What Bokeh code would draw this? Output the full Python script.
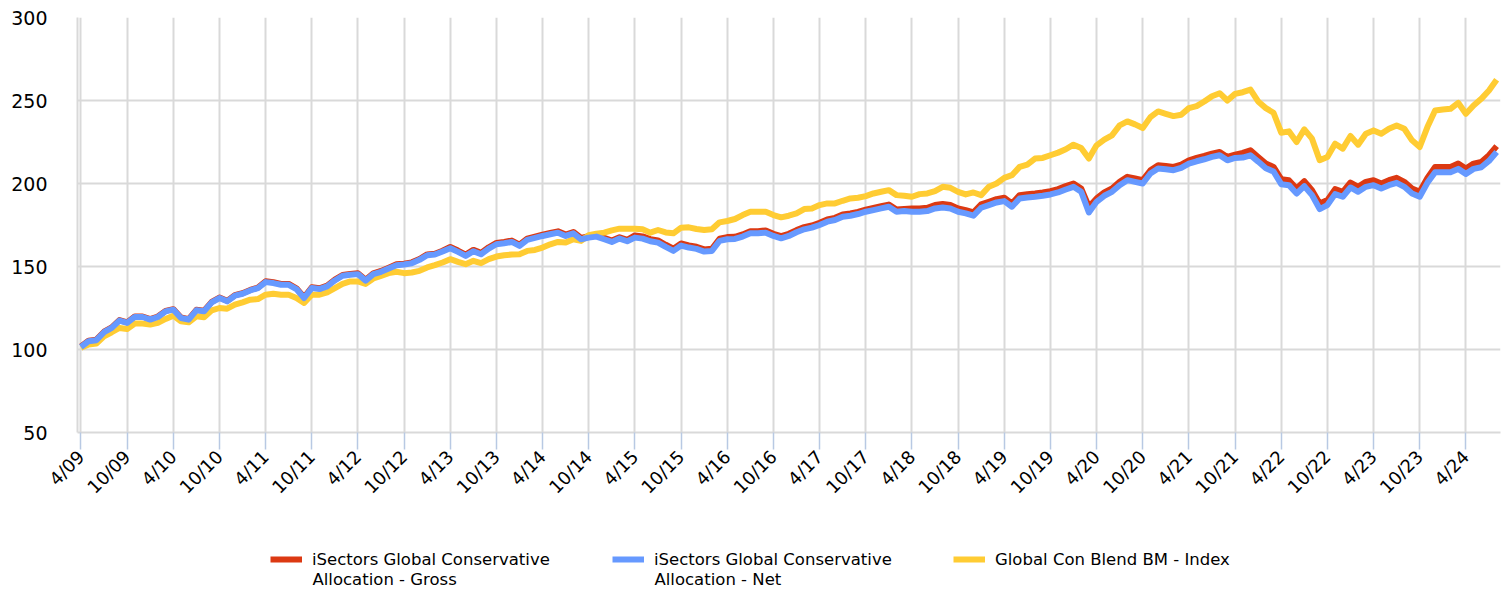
import math
from bokeh.plotting import figure
from bokeh.layouts import column
from bokeh.models import FixedTicker, Legend, LegendItem, ColumnDataSource, Range1d, Label
from bokeh.embed import file_html
from bokeh.resources import INLINE

tick_labels = ["4/09", "10/09", "4/10", "10/10", "4/11", "10/11", "4/12", "10/12",
               "4/13", "10/13", "4/14", "10/14", "4/15", "10/15", "4/16", "10/16",
               "4/17", "10/17", "4/18", "10/18", "4/19", "10/19", "4/20", "10/20",
               "4/21", "10/21", "4/22", "10/22", "4/23", "10/23", "4/24"]
y_ticks = [50, 100, 150, 200, 250, 300]

gross = [101.8, 105.3, 105.9, 110.7, 113.3, 117.7, 116.3, 119.9, 119.9, 118.3,
         119.9, 123.3, 124.3, 119.3, 118.3, 123.9, 123.3, 128.7, 131.3, 129.3,
         132.7, 133.9, 135.9, 137.3, 141.1, 140.5, 139.5, 139.5, 136.9, 131.5,
         137.5, 136.9, 138.5, 142.1, 144.9, 145.5, 145.9, 142.0, 145.9, 147.3,
         149.3, 151.3, 151.7, 152.5, 154.5, 157.3, 157.7, 159.5, 161.8, 159.6,
         157.2, 160.0, 158.2, 161.6, 164.2, 164.8, 165.6, 163.2, 166.8, 168.0,
         169.2, 170.2, 171.2, 169.2, 170.8, 167.2, 168.2, 168.8, 167.2, 165.6,
         167.6, 166.0, 168.7, 168.1, 166.5, 165.7, 163.1, 160.7, 163.9, 162.7,
         161.9, 160.3, 160.7, 166.7, 167.7, 167.9, 169.3, 171.3, 171.3, 171.7,
         169.7, 168.3, 169.7, 171.9, 173.7, 174.7, 176.3, 178.3, 179.3, 181.3,
         181.9, 182.9, 184.3, 185.3, 186.3, 187.3, 184.3, 184.7, 185.0, 185.0,
         185.4, 187.0, 187.6, 187.0, 185.0, 184.0, 182.6, 187.4, 189.0, 190.6,
         191.4, 188.0, 193.0, 193.6, 194.0, 194.6, 195.4, 196.6, 198.4, 200.0,
         197.0, 186.0, 191.0, 194.6, 197.0, 201.0, 204.0, 203.0, 202.0, 208.0,
         211.0, 210.6, 210.0, 211.4, 214.0, 215.4, 216.6, 218.0, 219.0, 216.0,
         217.4, 218.4, 220.0, 216.0, 212.0, 210.0, 202.6, 202.0, 197.0, 201.4,
         196.0, 188.0, 190.0, 196.6, 195.0, 200.6, 198.0, 201.0, 202.0, 200.0,
         202.0, 203.4, 201.0, 197.0, 195.0, 203.4, 210.0, 210.0, 210.0, 212.0,
         209.0, 212.0, 213.0, 217.0, 222.5]

net = [101.5, 105.0, 105.6, 110.4, 113.0, 117.4, 116.0, 119.6, 119.6, 118.0,
       119.6, 123.0, 124.0, 119.0, 118.0, 123.6, 123.0, 128.4, 131.0, 129.0,
       132.4, 133.6, 135.6, 137.0, 140.6, 140.0, 139.0, 139.0, 136.4, 131.0,
       137.0, 136.4, 138.0, 141.6, 144.4, 145.0, 145.4, 141.5, 145.4, 146.8,
       148.8, 150.8, 151.2, 152.0, 154.0, 156.8, 157.2, 159.0, 161.0, 158.8,
       156.4, 159.2, 157.4, 160.8, 163.4, 164.0, 164.8, 162.4, 166.0, 167.2,
       168.4, 169.4, 170.4, 168.4, 170.0, 166.4, 167.4, 168.0, 166.4, 164.8,
       166.8, 165.2, 167.4, 166.8, 165.2, 164.4, 161.8, 159.4, 162.6, 161.4,
       160.6, 159.0, 159.4, 165.4, 166.4, 166.6, 168.0, 170.0, 170.0, 170.4,
       168.4, 167.0, 168.4, 170.6, 172.4, 173.4, 175.0, 177.0, 178.0, 180.0,
       180.6, 181.6, 183.0, 184.0, 185.0, 186.0, 183.0, 183.4, 183.0, 183.0,
       183.4, 185.0, 185.6, 185.0, 183.0, 182.0, 180.6, 185.4, 187.0, 188.6,
       189.4, 186.0, 191.0, 191.6, 192.0, 192.6, 193.4, 194.6, 196.4, 198.0,
       195.0, 182.6, 189.0, 192.6, 195.0, 199.0, 202.0, 201.0, 200.0, 206.0,
       209.0, 208.6, 208.0, 209.4, 212.0, 213.4, 214.6, 216.0, 217.0, 214.0,
       215.4, 215.6, 217.0, 213.2, 209.2, 207.2, 199.6, 199.0, 194.0, 198.4,
       193.0, 184.6, 187.0, 193.6, 192.0, 197.6, 195.0, 198.0, 199.0, 197.0,
       199.0, 200.4, 198.0, 194.0, 192.0, 200.4, 206.8, 206.8, 206.8, 208.8,
       205.8, 208.8, 209.8, 213.6, 219.0]

index = [101.0, 103.0, 103.6, 108.0, 110.4, 113.0, 112.4, 115.6, 115.6, 115.0,
         116.0, 118.4, 120.4, 117.0, 116.4, 120.0, 119.4, 123.6, 125.0, 124.6,
         127.0, 128.4, 130.0, 130.4, 133.0, 133.6, 133.0, 133.0, 131.0, 128.0,
         133.0, 133.0, 134.4, 137.0, 139.6, 141.0, 141.0, 139.5, 142.8, 144.4,
         146.0, 146.8, 146.0, 146.4, 147.4, 149.4, 150.8, 152.4, 154.4, 152.8,
         151.4, 153.4, 152.0, 154.4, 156.0, 156.8, 157.2, 157.4, 159.4, 160.0,
         161.4, 163.4, 164.8, 164.4, 166.4, 165.4, 168.8, 169.8, 170.4, 171.8,
         172.8, 172.8, 172.8, 172.4, 170.4, 172.0, 170.5, 170.0, 173.4, 173.6,
         172.6, 172.0, 172.4, 176.6, 177.4, 178.6, 181.0, 183.0, 183.0, 183.0,
         181.0, 179.6, 180.6, 182.0, 184.6, 185.0, 187.0, 188.0, 188.0, 189.6,
         191.0, 191.4, 192.4, 194.0, 195.0, 196.0, 193.0, 192.6, 192.0, 193.6,
         194.0, 195.4, 198.0, 197.4, 195.0, 193.4, 194.6, 193.0, 198.0, 200.0,
         203.4, 205.0, 210.0, 211.4, 215.0, 215.4, 217.0, 218.6, 220.6, 223.4,
         221.4, 215.0, 223.0, 226.4, 229.0, 235.0, 237.4, 235.6, 233.4, 240.0,
         243.4, 242.0, 240.6, 241.4, 245.4, 246.6, 249.4, 252.6, 254.4, 250.0,
         254.0, 255.0, 256.6, 249.4, 245.4, 242.6, 230.6, 231.4, 225.0, 232.6,
         227.0, 214.0, 216.0, 224.0, 221.0, 228.6, 223.4, 230.0, 232.0, 230.0,
         233.0, 235.0, 233.0, 226.0, 222.0, 234.0, 244.0, 244.6, 245.0, 248.6,
         242.0, 247.0, 251.0, 256.0, 262.5]

labels_line1 = ["iSectors Global Conservative", "iSectors Global Conservative",
                "Global Con Blend BM - Index"]
labels_line2 = ["Allocation - Gross", "Allocation - Net", ""]
colors = ["#dc3912", "#6699ff", "#ffcc33"]

months = list(range(len(net)))
tick_pos = [6 * k for k in range(len(tick_labels))]
src = ColumnDataSource(data=dict(m=months, gross=gross, net=net, index=index))

FONT = "DejaVu Sans"
MAIN_H = 512
p = figure(width=1501, height=MAIN_H, x_range=Range1d(-0.45, len(net) - 0.5),
           y_range=Range1d(50, 300), output_backend="svg", toolbar_location=None,
           min_border_left=77, min_border_right=1, min_border_top=17,
           min_border_bottom=MAIN_H - 17 - 415)
p.outline_line_color = None
p.background_fill_color = "white"

p.xgrid.ticker = FixedTicker(ticks=tick_pos)
p.ygrid.ticker = FixedTicker(ticks=y_ticks)
for g in (p.xgrid, p.ygrid):
    g.grid_line_color = "#d9d9d9"
    g.grid_line_width = 2

xa = p.xaxis[0]
xa.ticker = FixedTicker(ticks=tick_pos)
xa.major_label_overrides = {pos: lab for pos, lab in zip(tick_pos, tick_labels)}
xa.major_label_orientation = math.pi / 4
xa.axis_line_color = "#d9d9d9"
xa.axis_line_width = 2
xa.major_tick_out = 17
xa.major_tick_in = 0
xa.major_tick_line_color = "#b8c9e3"
xa.major_tick_line_width = 1.5
xa.minor_tick_line_color = None
xa.major_label_standoff = 4
xa.major_label_text_font = FONT
xa.major_label_text_font_size = "18px"
xa.major_label_text_color = "#000000"

ya = p.yaxis[0]
ya.ticker = FixedTicker(ticks=y_ticks)
ya.axis_line_color = "#d9d9d9"
ya.axis_line_width = 2
ya.major_tick_out = 0
ya.major_tick_in = 0
ya.minor_tick_line_color = None
ya.major_label_standoff = 30
ya.major_label_text_font = FONT
ya.major_label_text_font_size = "19px"
ya.major_label_text_color = "#000000"

p.line("m", "gross", source=src, line_color=colors[0], line_width=6, line_join="round")
p.line("m", "index", source=src, line_color=colors[2], line_width=6, line_join="round")
p.line("m", "net", source=src, line_color=colors[1], line_width=6, line_join="round")

# legend strip below the chart (its lines fall outside its own y range)
LEG_H = 591 - MAIN_H
q = figure(width=1501, height=LEG_H, x_range=Range1d(0, 1), y_range=Range1d(0, 1),
           output_backend="svg", toolbar_location=None,
           min_border_left=0, min_border_right=0, min_border_top=0, min_border_bottom=0)
q.axis.visible = False
q.grid.visible = False
q.outline_line_color = None
leg_rs = [q.line("m", col, source=src, line_color=c, line_width=6)
          for col, c in zip(["gross", "net", "index"], colors)]

LEG_X = [193, 535, 876]   # swatch left edges, relative to the plot frame
for r, x0, t1, t2 in zip(leg_rs, LEG_X, labels_line1, labels_line2):
    lg = Legend(items=[LegendItem(label=t1, renderers=[r])],
                orientation="horizontal", location=(x0, 22),
                glyph_width=32, glyph_height=20, label_height=20, label_standoff=10,
                padding=0, margin=0, border_line_color=None,
                background_fill_alpha=0, label_text_font=FONT,
                label_text_font_size="16.5px", label_text_color="#000000")
    q.add_layout(lg, "center")
    if t2:
        q.add_layout(Label(x=x0 + 42, y=12, x_units="screen", y_units="screen", text=t2,
                           text_font=FONT, text_font_size="16.5px", text_color="#000000",
                           text_baseline="middle", text_align="left"))

open("out.html", "w").write(file_html(column(p, q, spacing=0), INLINE))
